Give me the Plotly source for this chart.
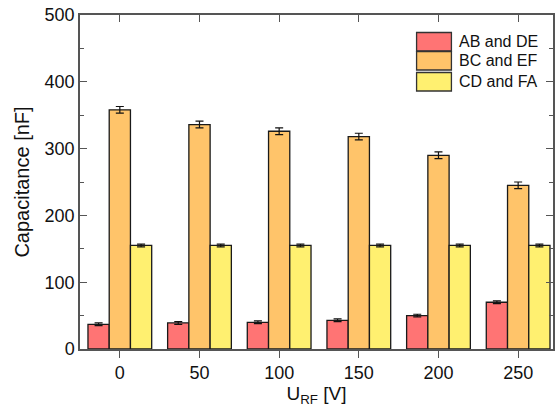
import plotly.graph_objects as go

voltages = [0, 50, 100, 150, 200, 250]
series_names = ["AB and DE", "BC and EF", "CD and FA"]
ab_de = [37, 39, 40, 43, 50, 70]
bc_ef = [358, 336, 326, 318, 290, 245]
cd_fa = [155, 155, 155, 155, 155, 155]
ab_de_err = [2, 2, 2, 2, 2, 2]
bc_ef_err = [5, 5, 5, 5, 5, 5]
cd_fa_err = [2, 2, 2, 2, 2, 2]
colors = ["#FF7474", "#FFC46A", "#FFF070"]

W, H = 555, 409
ml, mr, mt, mb = 80, 0, 15, 60
pw, ph = W - ml - mr, H - mt - mb

fig = go.Figure()
for name, vals, errs, col in zip(series_names, [ab_de, bc_ef, cd_fa],
                                 [ab_de_err, bc_ef_err, cd_fa_err], colors):
    fig.add_trace(go.Bar(
        x=voltages, y=vals, name=name, showlegend=False,
        marker=dict(color=col, line=dict(color="#1a1a1a", width=1.3)),
        error_y=dict(type="data", array=errs, visible=True,
                     color="#111111", thickness=1.2, width=4),
    ))

# invisible trace to carry the top x axis
fig.add_trace(go.Scatter(x=voltages, y=cd_fa, xaxis="x2", mode="markers",
                         marker=dict(opacity=0), showlegend=False,
                         hoverinfo="skip"))

axis_col = "#555555"
font = "Liberation Sans, Arial, sans-serif"
xr = [-25, -25 + pw / 1.6]

fig.update_layout(
    width=W, height=H,
    margin=dict(l=ml, r=mr, t=mt, b=mb),
    paper_bgcolor="white", plot_bgcolor="white",
    barmode="group", bargap=0.2, bargroupgap=0,
    font=dict(family=font, size=18, color="#111111"),
    xaxis=dict(range=xr, tickvals=voltages, ticks="outside", ticklen=7,
               tickwidth=1.3, tickcolor=axis_col, showline=True,
               linecolor=axis_col, linewidth=1.5, mirror=True,
               showgrid=False, zeroline=False,
               tickfont=dict(size=18),
               title=dict(text="U<sub>RF</sub> [V]", font=dict(size=19),
                          standoff=4)),
    xaxis2=dict(range=xr, overlaying="x", side="top", tickvals=voltages,
                ticks="inside", ticklen=7, tickwidth=1.3, tickcolor=axis_col,
                showticklabels=False, showgrid=False, zeroline=False,
                showline=False),
    yaxis=dict(range=[0, 500], tickvals=[0, 100, 200, 300, 400, 500],
               ticks="inside", ticklen=7, tickwidth=1.3, tickcolor=axis_col,
               minor=dict(ticks="inside", ticklen=4, tickwidth=1.2,
                          tickcolor=axis_col, dtick=50),
               showline=True, linecolor=axis_col, linewidth=1.5,
               mirror="ticks", showgrid=False, zeroline=False,
               tickfont=dict(size=18),
               title=dict(text="Capacitance [nF]", font=dict(size=20),
                          standoff=10)),
)

# custom legend with wide swatches
box_x0, box_x1 = 418, 453
tops = [32.5, 51.5, 72.5]
hgt = 18.5
for name, col, top in zip(series_names, colors, tops):
    fig.add_shape(type="rect", xref="paper", yref="paper",
                  x0=(box_x0 - ml) / pw, x1=(box_x1 - ml) / pw,
                  y0=(mt + ph - top) / ph, y1=(mt + ph - top - hgt) / ph,
                  fillcolor=col, line=dict(color="#333333", width=1.3))
    fig.add_annotation(xref="paper", yref="paper",
                       x=(459 - ml) / pw, y=(mt + ph - top - hgt / 2) / ph,
                       xanchor="left", yanchor="middle", showarrow=False,
                       text=name, font=dict(size=16, color="#111111"))

fig.write_html("out.html")
